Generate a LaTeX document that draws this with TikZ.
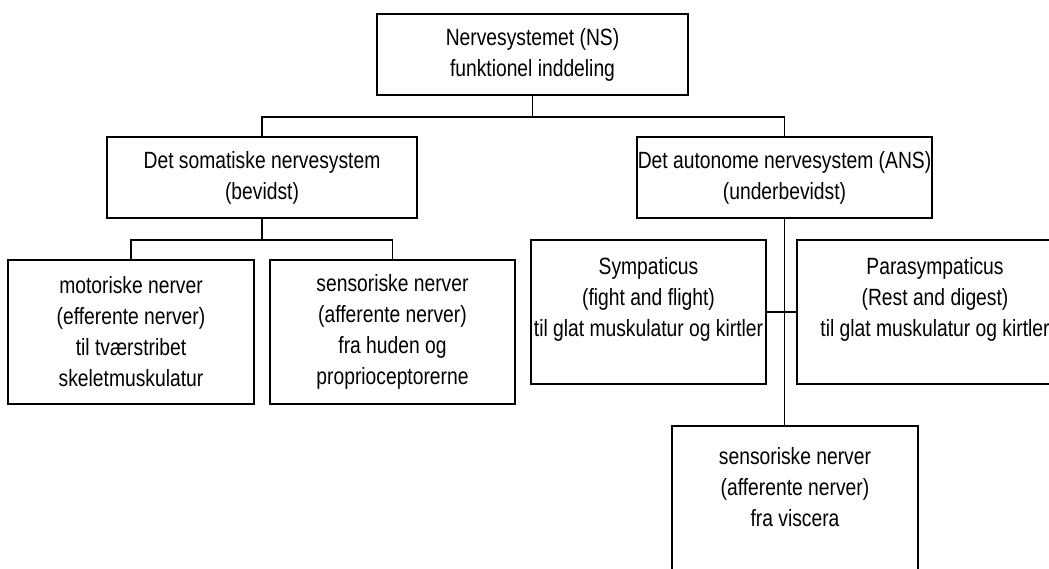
\documentclass[tikz,border=0pt]{standalone}
\usepackage{fontspec}
\setmainfont[FakeStretch=0.82]{Liberation Sans}
\begin{document}
\begin{tikzpicture}[x=1pt,y=-1pt,
  box/.style={draw, line width=1.7pt, rectangle, inner sep=1pt, align=center,
    font=\fontsize{23.5pt}{31pt}\selectfont},
  conn/.style={line width=1.7pt}]
\useasboundingbox (0,0) rectangle (1049,568);
\clip (0,0) rectangle (1049,568);
\node[box, minimum width=311pt, minimum height=81pt] (top) at (532.5,54.5)
  {Nervesystemet (NS)\\funktionel inddeling};
\node[box, minimum width=310pt, minimum height=81pt] (som) at (262,177.5)
  {Det somatiske nervesystem\\(bevidst)};
\node[box, minimum width=289pt, minimum height=81pt] (ans) at (784.5,177.5)
  {Det autonome nervesystem (ANS)\\(underbevidst)};
\node[box, minimum width=246pt, minimum height=144pt] (mot) at (131,332)
  {motoriske nerver\\(efferente nerver)\\til tværstribet\\skeletmuskulatur};
\node[box, minimum width=245pt, minimum height=144pt] (sen) at (392.5,332)
  {sensoriske nerver\\(afferente nerver)\\fra huden og\\proprioceptorerne};
\node[box, minimum width=235pt, minimum height=144pt] (sym) at (648.5,312)
  {Sympaticus\\(fight and flight)\\til glat muskulatur og kirtler\\~};
\node[box, minimum width=276pt, minimum height=144pt] (para) at (935,312)
  {Parasympaticus\\(Rest and digest)\\til glat muskulatur og kirtler\\~};
\node[box, minimum width=246pt, minimum height=183pt] (bot) at (795,517.5)
  {sensoriske nerver\\(afferente nerver)\\fra viscera\\~\\~};
% connectors
\draw[conn] (top.south) -- ++(0,21) coordinate (j1);
\draw[conn] (j1) -| (som.north);
\draw[conn] (j1) -| (ans.north);
\draw[conn] (som.south) -- ++(0,21) coordinate (j2);
\draw[conn] (j2) -| (mot.north);
\draw[conn] (j2) -| (sen.north);
\draw[conn] (ans.south) -- (ans.south |- bot.north);
\draw[conn] (sym.east) -- (para.west);
\end{tikzpicture}
\end{document}
